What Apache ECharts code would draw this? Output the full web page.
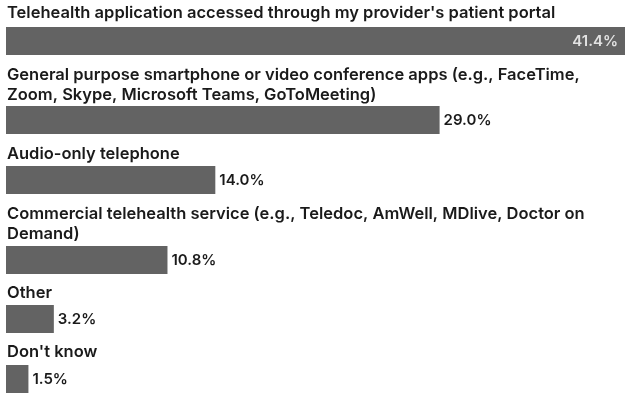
<!DOCTYPE html>
<html><head><meta charset="utf-8">
<script src="https://cdn.jsdelivr.net/npm/echarts@6/dist/echarts.min.js"></script>
<style>html,body{margin:0;padding:0;background:#fff}#c{width:626px;height:393px}</style>
</head><body><div id="c"></div>
<script>
const categories = [
  "Telehealth application accessed through my provider's patient portal",
  "General purpose smartphone or video conference apps (e.g., FaceTime,\nZoom, Skype, Microsoft Teams, GoToMeeting)",
  "Audio-only telephone",
  "Commercial telehealth service (e.g., Teledoc, AmWell, MDlive, Doctor on\nDemand)",
  "Other",
  "Don't know"
];
const values = [41.4, 29.0, 14.0, 10.8, 3.2, 1.5];

const barTops = [27, 106, 166, 246, 305, 365];
const labelTops = [3, 65, 144, 204, 283, 342];
const FONT = 'Inter';
const grids = [], xAxes = [], yAxes = [], series = [], graphics = [];
categories.forEach((cat, i) => {
  grids.push({left: 6, right: 1, top: barTops[i], height: 28});
  xAxes.push({type: 'value', gridIndex: i, min: 0, max: 41.4, show: false});
  yAxes.push({type: 'category', gridIndex: i, data: [cat], show: false});
  const inside = i === 0;
  series.push({
    type: 'bar', xAxisIndex: i, yAxisIndex: i, data: [values[i]],
    barWidth: '100%', silent: true,
    itemStyle: {color: '#636363'},
    label: {
      show: true, position: inside ? 'insideRight' : 'right',
      distance: inside ? 7 : 4,
      formatter: p => p.value.toFixed(1) + '%',
      color: inside ? '#e2e2e2' : '#1a1a1a',
      fontFamily: FONT, fontWeight: 600, fontSize: 15
    }
  });
  graphics.push({
    type: 'text', left: 7, top: labelTops[i],
    style: {text: cat, fill: '#1a1a1a', font: '600 16.5px ' + FONT, lineHeight: 20}
  });
});
const chart = echarts.init(document.getElementById('c'));
chart.setOption({animation: false, grid: grids, xAxis: xAxes, yAxis: yAxes, series: series, graphic: graphics});
</script></body></html>
